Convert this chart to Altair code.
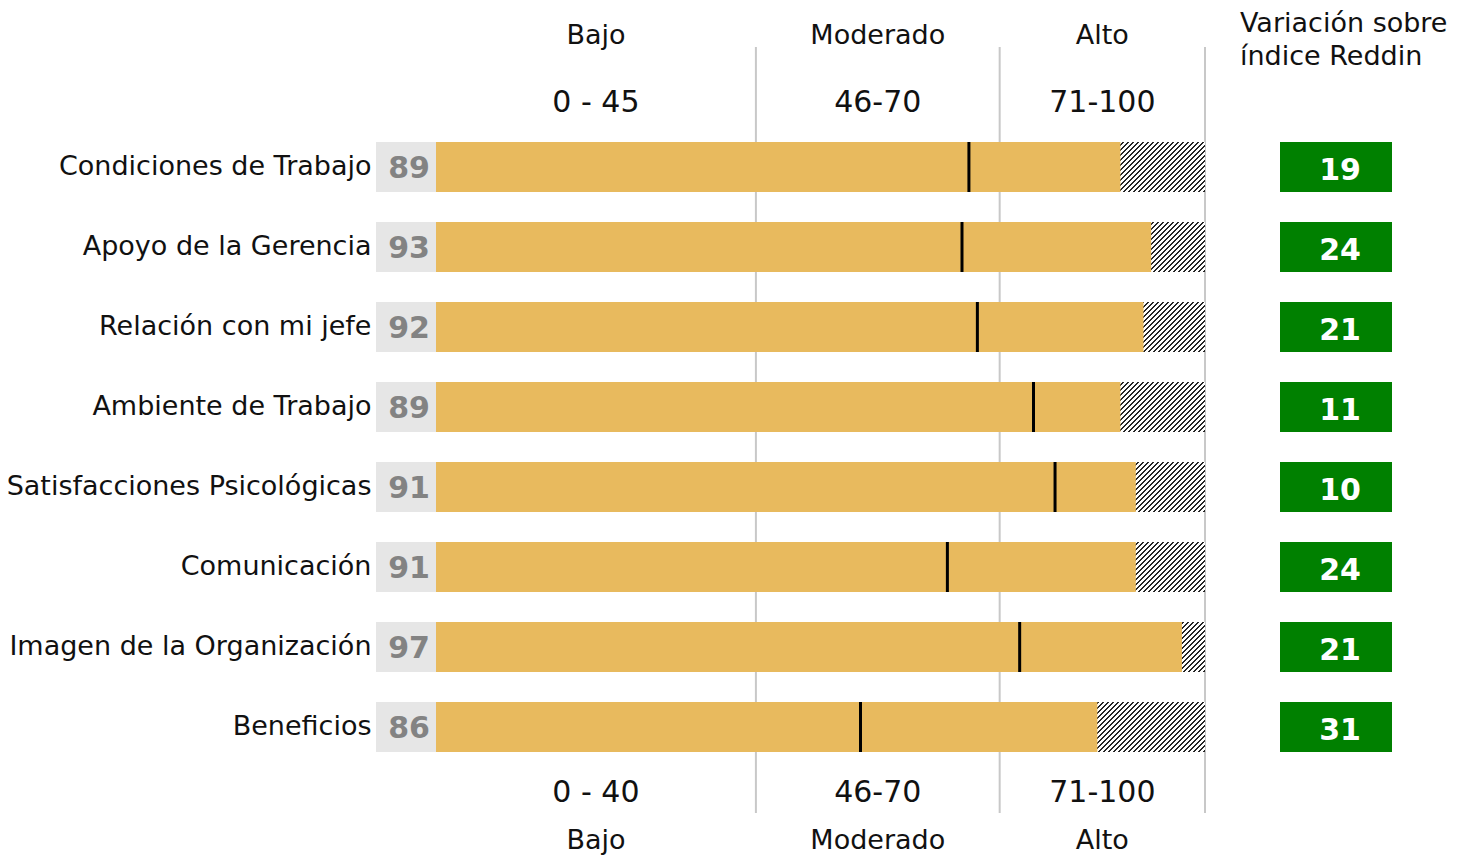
import altair as alt
import pandas as pd

# ---------------- data ----------------
categories = [
    "Condiciones de Trabajo",
    "Apoyo de la Gerencia",
    "Relación con mi jefe",
    "Ambiente de Trabajo",
    "Satisfacciones Psicológicas",
    "Comunicación",
    "Imagen de la Organización",
    "Beneficios",
]
scores = [89, 93, 92, 89, 91, 91, 97, 86]
variations = [19, 24, 21, 11, 10, 24, 21, 31]
reddin_index = [69.3, 68.4, 70.4, 77.7, 80.5, 66.5, 75.9, 55.2]

zone_names = ["Bajo", "Moderado", "Alto"]
zone_ranges_top = ["0 - 45", "46-70", "71-100"]
zone_ranges_bottom = ["0 - 40", "46-70", "71-100"]
zone_starts = [0, 41.6, 73.3]
zone_ends = [41.6, 73.3, 100]

header_right = ["Variación sobre\níndice Reddin"]

# ---------------- style ----------------
FONT = "DejaVu Sans"
PLOT_W, PLOT_H = 769, 640
BAR_H = 50
YELLOW = "#E8BA5E"
GREEN = "#008000"
TXT = "#111111"

df = pd.DataFrame({
    "categoria": categories,
    "puntaje": scores,
    "variacion": variations,
    "reddin": reddin_index,
})
zones = pd.DataFrame({
    "zona": zone_names,
    "rango_sup": zone_ranges_top,
    "rango_inf": zone_ranges_bottom,
    "inicio": zone_starts,
    "fin": zone_ends,
})
header = pd.DataFrame({"titulo": header_right})

# diagonal hatch: striped linear gradient with 45-degree stripes, laid over the
# full 0-100 track (only the part right of each bar stays visible)
r = BAR_H / PLOT_W
hs = min(scores) / 100 * PLOT_W - 20          # hatch start (px along x+y)
span = PLOT_W + BAR_H + 5 - hs                 # px of x+y covered by stripes
kk = span / (PLOT_W * (1 + r * r))
x1 = hs / PLOT_W
period_px = 5.0
p = period_px / span
dark_frac = 0.4
stops = []
t = 0.0
while t < 1.0:
    b = min(t + dark_frac * p, 1.0)
    c = min(t + p, 1.0)
    stops += [
        {"offset": round(t, 5), "color": "#262626"},
        {"offset": round(b, 5), "color": "#262626"},
        {"offset": round(b, 5), "color": "#ffffff"},
        {"offset": round(c, 5), "color": "#ffffff"},
    ]
    t += p
hatch = {"gradient": "linear", "x1": x1, "y1": 0, "x2": x1 + kk, "y2": kk * r, "stops": stops}

xscale = alt.Scale(domain=[0, 100], nice=False, zero=True)
Y = alt.Y(
    "categoria:N",
    sort=categories,
    scale=alt.Scale(paddingInner=0.375, paddingOuter=0.1875),
    axis=alt.Axis(
        title=None, domain=False, ticks=False, labelPadding=65,
        labelFontSize=27, labelFont=FONT, labelColor=TXT, labelLimit=600,
    ),
)

base = alt.Chart(df)
zbase = alt.Chart(zones).transform_calculate(mid="(datum.inicio + datum.fin) / 2")

rules = zbase.mark_rule(color="#c8c8c8", strokeWidth=2).encode(
    x=alt.X("fin:Q", scale=xscale, axis=None),
    y=alt.value(-80),
    y2=alt.value(686),
)

hatch_bg = base.transform_calculate(zero="0", cien="100").mark_bar(fill=hatch).encode(
    x=alt.X("zero:Q", scale=xscale, axis=None),
    x2=alt.X2("cien:Q"),
    y=Y,
)

bars = base.mark_bar(color=YELLOW).encode(
    x=alt.X("puntaje:Q", scale=xscale, axis=None),
    y=Y,
)

ticks = base.mark_tick(color="black", thickness=3, size=BAR_H, opacity=1).encode(
    x=alt.X("reddin:Q", scale=xscale, axis=None),
    y=Y,
)

score_box = base.mark_bar(color="#E6E6E6").encode(
    x=alt.value(-60), x2=alt.value(0), y=Y,
)
score_txt = base.mark_text(
    font=FONT, fontSize=30, fontWeight="bold", color="#838383", align="center", baseline="middle", dy=2
).encode(x=alt.value(-27), y=Y, text="puntaje:Q")

green_box = base.mark_bar(color=GREEN).encode(
    x=alt.value(844), x2=alt.value(956), y=Y,
)
green_txt = base.mark_text(
    font=FONT, fontSize=30, fontWeight="bold", color="white", align="center", baseline="middle", dy=4
).encode(x=alt.value(904), y=Y, text="variacion:Q")

def ztext(field, ypix, size):
    return zbase.mark_text(
        font=FONT, fontSize=size, color=TXT, align="center", baseline="alphabetic"
    ).encode(
        x=alt.X("mid:Q", scale=xscale, axis=None),
        y=alt.value(ypix),
        text=f"{field}:N",
    )

top_names = ztext("zona", -83, 27)
top_ranges = ztext("rango_sup", -15, 30)
bot_ranges = ztext("rango_inf", 675, 30)
bot_names = ztext("zona", 722, 27)

head = alt.Chart(header).mark_text(
    font=FONT, fontSize=27, color=TXT, align="left", baseline="alphabetic",
    lineBreak="\n", lineHeight=33,
).encode(x=alt.value(804), y=alt.value(-95), text="titulo:N")

chart = alt.layer(
    rules, hatch_bg, bars, ticks, score_box, score_txt, green_box, green_txt,
    top_names, top_ranges, bot_ranges, bot_names, head,
).properties(
    width=PLOT_W,
    height=PLOT_H,
    autosize=alt.AutoSizeParams(type="none"),
    padding={"left": 428, "top": 119, "right": 245, "bottom": 100},
).configure_view(stroke=None)

chart.save("out.html", embed_options={"renderer": "svg", "actions": False})
